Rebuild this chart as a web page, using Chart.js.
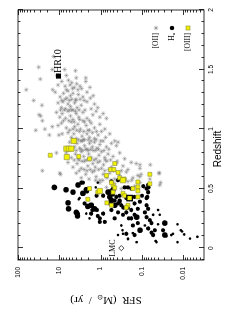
<!DOCTYPE html>
<html>
<head>
<meta charset="utf-8">
<script src="https://cdn.jsdelivr.net/npm/chart.js@4.4.1/dist/chart.umd.min.js"></script>
<style>
  html, body { margin: 0; padding: 0; background: #fff; overflow: hidden; }
  body { width: 243px; height: 319px; position: relative; }
  /* the figure is laid out in landscape and then turned a quarter turn */
  #wrap { position: absolute; left: -38px; top: 38px; width: 319px; height: 243px; transform: rotate(-90deg); }
</style>
</head>
<body>
<div id="wrap"><canvas id="chart" width="319" height="243"></canvas></div>
<script>
// every point is [redshift, log10 SFR (Msun/yr)]
const oii = [
  [1.61,1.14],[1.52,1.50],[1.50,1.17],[1.45,1.06],[1.50,0.87],[1.45,0.83],[1.49,0.61],[1.43,0.59],
  [1.43,0.36],[1.42,1.46],[1.33,1.80],[1.24,1.62],[1.20,1.42],[1.12,1.49],[1.11,1.45],[1.07,1.41],
  [0.99,1.57],[1.00,1.35],[1.02,1.17],[0.95,1.24],[0.95,1.01],[0.80,1.07],[0.65,1.41],[0.63,0.99],
  [0.62,0.97],[1.37,1.03],[1.33,1.16],[1.03,1.03],[0.96,0.93],
  [1.40,0.94],[1.36,0.86],[1.41,0.78],[1.37,0.74],[1.39,0.70],[1.35,0.64],[1.38,0.58],[1.36,0.50],[1.40,0.36],[1.35,0.26],
  [1.31,1.10],[1.27,0.98],[1.30,0.90],[1.26,0.82],[1.32,0.79],[1.28,0.73],[1.30,0.67],[1.25,0.60],[1.29,0.54],[1.27,0.43],
  [1.31,0.33],[1.26,0.25],[1.28,0.18],
  [1.22,1.03],[1.18,0.95],[1.23,0.91],[1.17,0.85],[1.21,0.79],[1.19,0.73],[1.16,0.67],[1.22,0.63],[1.18,0.57],[1.20,0.47],
  [1.23,0.33],[1.17,0.23],[1.21,0.15],[1.18,0.07],
  [1.14,1.07],[1.10,0.99],[1.13,0.93],[1.09,0.85],[1.15,0.79],[1.11,0.73],[1.08,0.67],[1.13,0.59],[1.10,0.53],[1.14,0.43],
  [1.09,0.33],[1.12,0.19],[1.15,0.11],[1.10,0.02],[1.13,-0.06],
  [1.05,0.95],[1.01,0.83],[1.06,0.71],[1.02,0.63],[1.04,0.55],[1.00,0.49],[1.07,0.43],[1.03,0.35],[0.99,0.31],[1.05,0.23],
  [1.01,0.15],[1.04,0.02],[1.00,-0.10],
  [0.97,0.79],[0.93,0.71],[0.96,0.65],[0.92,0.59],[0.98,0.51],[0.94,0.45],[0.91,0.39],[0.96,0.33],[0.93,0.27],[0.97,0.20],
  [0.92,0.15],[0.95,0.06],[0.98,-0.02],[0.93,-0.12],[0.96,-0.22],
  [0.89,0.75],[0.85,0.63],[0.88,0.57],[0.84,0.51],[0.90,0.45],[0.86,0.39],[0.83,0.33],[0.88,0.27],[0.85,0.20],[0.89,0.15],
  [0.84,0.09],[0.87,0.02],[0.90,-0.06],[0.85,-0.14],[0.88,-0.26],[0.86,-0.38],
  [0.80,0.83],[0.76,0.71],[0.79,0.61],[0.75,0.55],[0.81,0.47],[0.77,0.41],[0.74,0.35],[0.79,0.29],[0.76,0.23],[0.82,0.18],
  [0.75,0.11],[0.78,0.04],[0.81,-0.02],[0.76,-0.10],[0.79,-0.18],[0.77,-0.30],[0.80,-0.46],[0.75,-0.58],
  [0.72,0.79],[0.68,0.67],[0.71,0.57],[0.67,0.47],[0.73,0.39],[0.69,0.31],[0.66,0.25],[0.71,0.19],[0.68,0.13],[0.72,0.07],
  [0.67,-0.02],[0.70,-0.07],[0.73,-0.15],[0.68,-0.26],[0.71,-0.38],[0.69,-0.54],[0.72,-0.74],[0.67,-0.95],
  [0.63,0.59],[0.59,0.47],[0.62,0.36],[0.58,0.28],[0.64,0.20],[0.60,0.11],[0.57,0.02],[0.62,-0.06],[0.59,-0.15],[0.63,-0.22],
  [0.58,-0.34],[0.61,-0.46],[0.64,-0.62],[0.59,-0.78],[0.62,-0.98],[0.58,-1.19],[0.63,-1.42],
  [0.55,0.02],[0.51,-0.14],[0.54,-0.34],[0.50,-0.50],[0.56,-0.66],[0.52,-0.82],[0.55,-0.95],[0.51,-1.07],[0.53,-1.43],
  [1.33,0.83],[1.34,0.68],[1.33,0.55],[1.34,0.46],
  [1.24,0.94],[1.25,0.86],[1.24,0.76],[1.25,0.70],[1.24,0.60],[1.25,0.50],[1.24,0.40],
  [1.16,0.97],[1.16,0.88],[1.16,0.76],[1.16,0.70],[1.15,0.61],[1.16,0.52],[1.16,0.38],
  [1.07,0.90],[1.07,0.77],[1.06,0.64],[1.08,0.51],[1.06,0.39],[1.07,0.27],
  [0.99,0.75],[1.00,0.67],[0.99,0.58],[0.98,0.41],[0.99,0.27],[0.98,0.10],
  [0.91,0.68],[0.90,0.62],[0.91,0.54],[0.90,0.48],[0.91,0.42],[0.91,0.30],[0.90,0.23],[0.91,0.11],[0.90,0.00],
  [0.83,0.68],[0.82,0.59],[0.83,0.48],[0.82,0.43],[0.83,0.36],[0.82,0.30],[0.83,0.24],[0.82,0.12],[0.83,0.05],[0.82,-0.08],[0.83,-0.20],
  [0.74,0.64],[0.74,0.52],[0.73,0.45],[0.74,0.28],[0.74,0.16],[0.73,0.02],[0.74,-0.11],[0.74,-0.24],[0.73,-0.40],
  [0.65,0.52],[0.66,0.40],[0.65,0.33],[0.65,0.15],[0.66,0.05],[0.65,-0.10],[0.66,-0.20],[0.65,-0.31],[0.65,-0.50],[0.66,-0.66],
  [0.57,0.12],[0.57,-0.05],[0.57,-0.25],[0.57,-0.40],[0.58,-0.58],[0.57,-0.75],
  [1.09,-0.14],[0.90,-0.34],[0.89,-0.42],[0.70,-1.20],[0.63,-1.41],[0.55,-1.45],[0.70,-0.95],[0.61,-0.90],[0.71,-0.86],[0.60,-0.95]
];

const haBig = [
  [0.51,1.12],[0.49,0.84],[0.47,0.67],[0.53,0.55],[0.38,0.79],[0.33,0.78],[0.30,0.59],[0.27,0.56],
  [0.36,0.23],[0.49,0.35],[0.47,-0.22],[0.43,-0.22],[0.40,-0.26],[0.36,-0.34],[0.26,-0.87],[0.21,-1.55],
  [0.11,-1.55],[0.15,-0.95],[0.35,0.31],[0.33,0.15],[0.46,0.43],[0.47,-0.18],[0.49,-0.30]
];
const haMid = [
  [0.55,0.43],[0.375,0.39],[0.44,0.10],[0.29,0.23],[0.27,0.07],[0.29,-0.06],[0.22,0.02],[0.22,-0.10],
  [0.375,-0.22],[0.40,-0.34],[0.375,-0.42],[0.36,-0.50],[0.32,-0.26],[0.30,-0.42],[0.28,-0.54],[0.30,-0.62],
  [0.32,-0.74],[0.51,-0.66],[0.50,-0.74],[0.51,-0.58],[0.43,-0.82],[0.39,-0.95],[0.375,-0.82],[0.33,-0.90],
  [0.28,-0.82],[0.25,-0.74],[0.21,-0.90],[0.19,-0.78],[0.12,-0.62],[0.11,-0.82],[0.50,-1.11],[0.47,-1.15],
  [0.51,-1.16],[0.43,-1.13],[0.36,-1.11],[0.33,-1.15],[0.30,-1.07],[0.26,-1.11],[0.235,-1.19],[0.21,-1.23],
  [0.165,-1.15],[0.13,-1.23],[0.11,-1.27],[0.15,-1.31],[0.15,-1.51],[0.29,0.55],[0.475,0.33],[0.56,-0.26],
  [0.57,-0.42],[0.25,0.02],[0.52,-1.03],[0.45,-0.30],[0.43,-0.38],[0.40,-0.46],[0.34,-0.55],[0.34,-0.66],
  [0.44,-1.00],[0.42,-1.11],[0.53,-1.15],[0.44,-0.46],[0.39,-0.46],[0.42,-0.62],[0.32,0.20],[0.32,0.09],
  [0.25,-0.34],[0.25,-0.68],[0.55,0.47],[0.44,-0.06]
];
const haSmall = [
  [0.42,0.51],[0.41,0.53],[0.29,0.35],[0.25,0.27],[0.19,-0.50],[0.11,-0.42],[0.05,-0.87],[0.32,-1.39],
  [0.28,-1.43],[0.28,-1.27],[0.20,-1.39],[0.11,-1.71],[0.05,-1.35],[0.20,-1.86],[0.14,-1.97],[0.115,-2.02],
  [0.05,-1.86],[0.08,-2.16],[0.095,-2.34],[0.19,-1.07],[0.075,-0.66],[0.15,-0.53],[0.126,-0.78],[0.06,-1.33],
  [0.10,-1.59],[0.12,-1.75],[0.15,-1.94],[0.495,0.27],[0.51,0.12],[0.55,0.07],[0.12,-0.54],[0.08,-0.66]
];

const oiii = [
  [0.78,1.22],[0.77,0.53],[0.75,0.27],[0.50,0.27],[0.41,0.31],[0.66,-0.24],[0.66,-0.32],[0.635,-0.42],
  [0.61,-0.14],[0.59,-0.46],[0.58,-0.57],[0.556,-0.90],[0.514,-0.90],[0.50,-0.78],[0.48,-0.90],[0.53,-0.30],
  [0.506,-0.34],[0.47,0.07],[0.47,-0.30],[0.46,-0.54],[0.44,-0.58],[0.43,-0.90],[0.36,-0.66],[0.34,-0.62],
  [0.36,-0.26],[0.62,-1.19],[0.54,-1.19],[0.71,-0.34],[0.55,-0.26],[0.38,-0.15]
];
const oiiiBig = [
  [0.90,0.65],[0.835,0.83],[0.835,0.77],[0.835,0.71],[0.765,0.82],[0.48,0.02],[0.57,-0.54]
];
const oiiiFramed = [[0.42,-0.70]];
const hr10 = [[1.445,1.02]];
const lmc = [[0.0,-0.50]];

const zTicks = [0, 0.5, 1, 1.5, 2];
const zTickLabels = ['0', '0.5', '1', '1.5', '2'];
const sfrTicks = [2, 1, 0, -1, -2];
const sfrTickLabels = ['100', '10', '1', '0.1', '0.01'];

const toXY = arr => arr.map(p => ({ x: p[0], y: p[1] }));
const SERIF = "'Liberation Serif', 'DejaVu Serif', serif";
const SANS = "'Liberation Sans', Arial, sans-serif";

// closed box with inward ticks on all four sides
const framePlugin = {
  id: 'frame',
  afterDatasetsDraw(chart) {
    const { ctx, chartArea: a, scales: { x, y } } = chart;
    ctx.save();
    ctx.strokeStyle = '#000';
    ctx.lineWidth = 0.8;
    ctx.strokeRect(a.left, a.top, a.right - a.left, a.bottom - a.top);
    ctx.beginPath();
    for (let i = -1; i <= 20; i++) {
      const px = Math.round(x.getPixelForValue(i / 10)) + 0.5;
      const len = i % 5 === 0 ? 5 : 2.5;
      ctx.moveTo(px, a.bottom); ctx.lineTo(px, a.bottom - len);
      ctx.moveTo(px, a.top); ctx.lineTo(px, a.top + len);
    }
    for (let n = -3; n <= 2; n++) {
      for (let k = 1; k <= 9; k++) {
        const v = n + Math.log10(k);
        if (v < y.min || v > y.max) continue;
        const py = Math.round(y.getPixelForValue(v)) + 0.5;
        const len = k === 1 ? 5 : 2.5;
        ctx.moveTo(a.left, py); ctx.lineTo(a.left + len, py);
        ctx.moveTo(a.right, py); ctx.lineTo(a.right - len, py);
      }
    }
    ctx.stroke();
    ctx.restore();
  }
};

// titles, object names and the key
const textPlugin = {
  id: 'texts',
  afterDraw(chart) {
    const { ctx, scales: { x, y } } = chart;
    ctx.save();
    ctx.fillStyle = '#000';

    ctx.font = '10px ' + SANS;
    ctx.textAlign = 'center';
    ctx.textBaseline = 'middle';
    ctx.fillText('Redshift', 170, 218);

    // SFR title, turned like a normal y title
    ctx.save();
    ctx.translate(19, 106);
    ctx.rotate(-Math.PI / 2);
    const big = '11px ' + SERIF, small = "7px 'DejaVu Sans', sans-serif";
    const parts = [['SFR  (M', big, 0], ['\u2299', small, 3], ['  /  yr)', big, 0]];
    let w = 0;
    parts.forEach(p => { ctx.font = p[1]; w += ctx.measureText(p[0]).width; });
    let x0 = -w / 2;
    ctx.textAlign = 'left';
    parts.forEach(p => { ctx.font = p[1]; ctx.fillText(p[0], x0, p[2]); x0 += ctx.measureText(p[0]).width; });
    ctx.restore();

    // HR10 and LMC names
    ctx.font = '10px ' + SERIF;
    ctx.textAlign = 'left';
    ctx.fillText('HR10', x.getPixelForValue(hr10[0][0]) + 3, y.getPixelForValue(hr10[0][1]));
    ctx.font = '8px ' + SERIF;
    ctx.textAlign = 'center';
    ctx.textBaseline = 'bottom';
    ctx.fillText('LMC', x.getPixelForValue(lmc[0][0]), y.getPixelForValue(lmc[0][1]) - 4);

    // key, symbol after the name
    const kx = 291, rows = [156, 172, 188];
    ctx.font = '7.5px ' + SERIF;
    ctx.textAlign = 'right';
    ctx.textBaseline = 'middle';
    ctx.fillText('[OII]', kx - 5, rows[0]);
    ctx.fillText('[OIII]', kx - 5, rows[2]);
    ctx.font = '4.5px ' + SERIF;
    const aw = ctx.measureText('\u03b1').width;
    ctx.fillText('\u03b1', kx - 5, rows[1] + 2);
    ctx.font = '7.5px ' + SERIF;
    ctx.fillText('H', kx - 5 - aw, rows[1]);

    ctx.strokeStyle = '#888';
    ctx.lineWidth = 0.6;
    ctx.beginPath();
    const r = 2.2, d = r * 0.707;
    ctx.moveTo(kx - r, rows[0]); ctx.lineTo(kx + r, rows[0]);
    ctx.moveTo(kx, rows[0] - r); ctx.lineTo(kx, rows[0] + r);
    ctx.moveTo(kx - d, rows[0] - d); ctx.lineTo(kx + d, rows[0] + d);
    ctx.moveTo(kx - d, rows[0] + d); ctx.lineTo(kx + d, rows[0] - d);
    ctx.stroke();
    ctx.beginPath();
    ctx.arc(kx, rows[1], 2.2, 0, Math.PI * 2);
    ctx.fill();
    ctx.fillStyle = '#f2f200';
    ctx.strokeStyle = '#8a8a3a';
    ctx.lineWidth = 0.6;
    ctx.fillRect(kx - 2, rows[2] - 2, 4, 4);
    ctx.strokeRect(kx - 2, rows[2] - 2, 4, 4);
    ctx.restore();
  }
};

const yellow = { backgroundColor: '#f2f200', borderColor: '#8a8a3a', borderWidth: 0.6, pointStyle: 'rect' };
const black = { backgroundColor: '#000', borderColor: '#000', borderWidth: 0, pointStyle: 'circle' };

new Chart(document.getElementById('chart'), {
  type: 'scatter',
  data: {
    datasets: [
      { label: 'HR10', data: toXY(hr10), pointStyle: 'rect', pointRadius: 3.6, backgroundColor: '#000', borderColor: '#000', borderWidth: 0 },
      { label: 'LMC', data: toXY(lmc), pointStyle: 'rectRot', pointRadius: 2.6, backgroundColor: '#fff', borderColor: '#000', borderWidth: 0.7 },
      { label: '[OIII] boxed', data: toXY(oiiiFramed), ...yellow, pointRadius: 3.8, borderColor: '#000', borderWidth: 1.3 },
      { label: '[OIII] large', data: toXY(oiiiBig), ...yellow, pointRadius: 3.7 },
      { label: '[OIII]', data: toXY(oiii), ...yellow, pointRadius: 2.8 },
      { label: 'Ha large', data: toXY(haBig), ...black, pointRadius: 2.8 },
      { label: 'Ha', data: toXY(haMid), ...black, pointRadius: 2.1 },
      { label: 'Ha small', data: toXY(haSmall), ...black, pointRadius: 1.3 },
      { label: '[OII]', data: toXY(oii), pointStyle: 'star', pointRadius: 2.3, borderColor: 'rgba(120,120,120,0.75)', borderWidth: 0.55, backgroundColor: 'transparent' }
    ]
  },
  options: {
    responsive: false,
    animation: false,
    events: [],
    layout: { padding: { top: 18, right: 10, left: 0, bottom: 0 } },
    plugins: { legend: { display: false }, tooltip: { enabled: false } },
    scales: {
      x: {
        type: 'linear', min: -0.1, max: 2,
        grid: { display: false, drawTicks: false },
        border: { display: false },
        afterBuildTicks: s => { s.ticks = zTicks.map(v => ({ value: v })); },
        afterFit: s => { s.height = 39; },
        ticks: {
          autoSkip: false, maxRotation: 0, padding: 3, color: '#000',
          font: { family: SANS, size: 6.5 },
          callback: (v, i) => zTickLabels[i]
        }
      },
      y: {
        type: 'linear', min: -2.5, max: 2,
        grid: { display: false, drawTicks: false },
        border: { display: false },
        afterBuildTicks: s => { s.ticks = sfrTicks.map(v => ({ value: v })); },
        afterFit: s => { s.width = 59; },
        ticks: {
          autoSkip: false, padding: 7, color: '#000',
          font: { family: SANS, size: 6.5 },
          callback: (v, i) => sfrTickLabels[i]
        }
      }
    }
  },
  plugins: [framePlugin, textPlugin]
});
</script>
</body>
</html>
